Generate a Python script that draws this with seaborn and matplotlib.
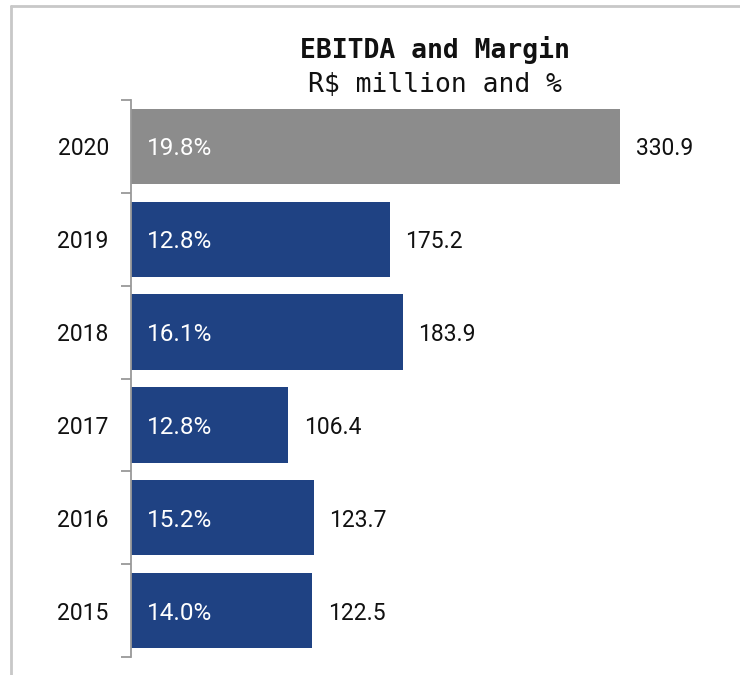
import matplotlib
matplotlib.use("Agg")
import matplotlib.pyplot as plt
import seaborn as sns
import pandas as pd
from matplotlib.lines import Line2D

years = ["2020", "2019", "2018", "2017", "2016", "2015"]
ebitda = [330.9, 175.2, 183.9, 106.4, 123.7, 122.5]
margins = ["19.8%", "12.8%", "16.1%", "12.8%", "15.2%", "14.0%"]
bar_colors = ["#8c8c8c", "#1f4283", "#1f4283", "#1f4283", "#1f4283", "#1f4283"]
title = "EBITDA and Margin"
subtitle = "R$ million and %"

sns.set_style("white")
plt.rcParams['font.family'] = ['Roboto', 'DejaVu Sans']

df = pd.DataFrame({"year": years, "ebitda": ebitda})

fig = plt.figure(figsize=(7.4, 6.75), dpi=100)
ax = fig.add_axes([131/740, 1-657/675, (720-131)/740, (657-100)/675])

sns.barplot(data=df, x="ebitda", y="year", hue="year", palette=bar_colors,
            legend=False, width=0.81, ax=ax, saturation=1, edgecolor="none")

ax.set_xlim(0, 398.5)
ax.set_ylim(len(years) - 0.5, -0.5)
ax.set_xlabel("")
ax.set_ylabel("")
ax.set_xticks([])

for s in ["top", "right", "bottom"]:
    ax.spines[s].set_visible(False)
ax.spines["left"].set_color("#999999")
ax.spines["left"].set_linewidth(1.3)

ax.set_yticks(range(len(years)))
ax.set_yticklabels(years, fontsize=16.5, color="#111111")
ax.tick_params(axis="y", which="major", length=0, pad=16)
ax.set_yticks([i - 0.5 for i in range(len(years) + 1)], minor=True)
ax.tick_params(axis="y", which="minor", left=True, length=7, width=1.3, color="#999999")

for i, (v, m) in enumerate(zip(ebitda, margins)):
    ax.text(v + 10.5, i, f"{v:.1f}", va="center_baseline", ha="left", fontsize=16.5, color="#111111")
    ax.text(10.5, i, m, va="center_baseline", ha="left", fontsize=17.5, color="white")

fig.text(435/740, 1-50/675, title, ha="center", va="center",
         fontsize=19, fontweight="bold", family=["DejaVu Sans Mono"], color="#111111")
fig.text(435/740, 1-85/675, subtitle, ha="center", va="center",
         fontsize=19, family=["DejaVu Sans Mono"], color="#111111")

# outer frame (top and left)
fig.add_artist(Line2D([11/740, 1.0], [1-6/675, 1-6/675], transform=fig.transFigure,
                      color="#c8c8c8", linewidth=2))
fig.add_artist(Line2D([11/740, 11/740], [0, 1-6/675], transform=fig.transFigure,
                      color="#c8c8c8", linewidth=2))

fig.savefig("out.png", dpi=100)
